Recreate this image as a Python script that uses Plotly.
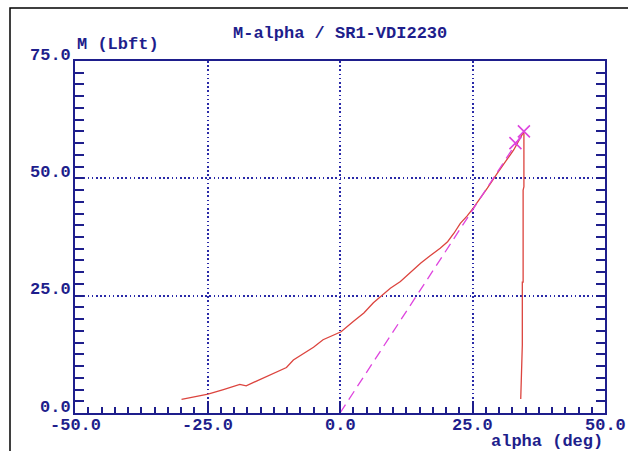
import plotly.graph_objects as go

# ---- data ----
alpha_meas = [-29.9, -27.5, -24.9, -22.0, -18.9, -17.7, -16.0, -13.9, -12.0, -10.1, -8.8, -6.9,
              -5.0, -3.2, -1.5, 0.2, 2.5, 4.5, 6.3, 7.6, 9.5, 11.4, 13.3, 15.2, 17.0, 18.9,
              20.3, 21.5, 22.7, 24.0, 25.1, 26.5, 27.8, 29.7, 31.2, 32.8, 34.7,
              34.7, 34.55, 34.55, 34.4, 34.4, 34.1]
m_meas = [2.9, 3.4, 4.0, 5.0, 6.1, 5.8, 6.7, 7.7, 8.7, 9.7, 11.3, 12.6,
          14.0, 15.6, 16.4, 17.3, 19.5, 21.3, 23.5, 24.8, 26.6, 28.0, 30.0, 31.9, 33.5, 35.1,
          36.5, 38.3, 40.4, 42.0, 43.6, 45.8, 47.9, 51.1, 53.6, 56.1, 60.0,
          48.2, 47.5, 27.9, 27.9, 14.5, 3.0]

alpha_lin = [0.0, 33.1, 34.7]
m_lin = [0.0, 57.5, 60.0]
alpha_mark = [33.1, 34.7]
m_mark = [57.5, 60.0]

x_ticks = [-50, -25, 0, 25, 50]
x_tick_labels = ["-50.0", "-25.0", "0.0", "25.0", "50.0"]
y_ticks = [0, 25, 50, 75]
y_tick_labels = ["0.0", "25.0", "50.0", "75.0"]

title_text = "M-alpha / SR1-VDI2230"
x_title = "alpha (deg)"
y_title = "M (Lbft)"

# ---- style ----
NAVY = "#1e1e8c"
GRID = "#2a2aa8"
RED = "#dc443e"
MAG = "#de44de"
FONT = "Liberation Mono"
fnt = dict(family=FONT, size=17, color=NAVY, weight="bold")

fig = go.Figure()
fig.add_trace(go.Scatter(x=alpha_meas, y=m_meas, mode="lines",
                         line=dict(color=RED, width=1.3), showlegend=False))
fig.add_trace(go.Scatter(x=alpha_lin, y=m_lin, mode="lines",
                         line=dict(color=MAG, width=1.3, dash="10px,6px"), showlegend=False))
fig.add_trace(go.Scatter(x=alpha_mark, y=m_mark, mode="markers",
                         marker=dict(symbol="x-thin", size=12, line=dict(color=MAG, width=1.6)),
                         showlegend=False))

ann = []
for v, t in zip(x_ticks, x_tick_labels):
    ann.append(dict(x=v, y=0, xref="x", yref="paper", text=t, showarrow=False,
                    xanchor="center", yanchor="middle", yshift=-12, font=fnt))
for v, t in zip(y_ticks, y_tick_labels):
    ann.append(dict(x=0, y=v, xref="paper", yref="y", text=t, showarrow=False,
                    xanchor="right", yanchor="middle", xshift=-2, yshift=6, font=fnt))
ann.append(dict(x=0, y=1, xref="paper", yref="paper", text=y_title, showarrow=False,
                xanchor="left", yanchor="middle", yshift=17, font=fnt))
ann.append(dict(x=1, y=0, xref="paper", yref="paper", text=x_title, showarrow=False,
                xanchor="right", yanchor="middle", yshift=-28, font=fnt))
ann.append(dict(x=0.5, y=1, xref="paper", yref="paper", text=title_text, showarrow=False,
                xanchor="center", yanchor="middle", yshift=28, font=fnt))

axis_common = dict(showline=True, linecolor=NAVY, linewidth=2, ticks="inside",
                   tickcolor=NAVY, tickwidth=1.5, showticklabels=False,
                   showgrid=True, gridcolor=GRID, gridwidth=1.6, griddash="1.6px,2.6px",
                   zeroline=False)

fig.update_xaxes(range=[-50, 50], tick0=-50, dtick=25, ticklen=12, mirror=True,
                 minor=dict(dtick=2.5, ticklen=6, ticks="inside", tickcolor=NAVY,
                            tickwidth=1.5, showgrid=False),
                 **axis_common)
fig.update_yaxes(range=[0, 75], tick0=0, dtick=25, ticklen=9, mirror="ticks",
                 minor=dict(dtick=2.5, ticklen=9, ticks="inside", tickcolor=NAVY,
                            tickwidth=1.5, showgrid=False),
                 **axis_common)

L, R, T, B = 75, 23, 61, 38
W, H = 628, 451
pw, ph = W - L - R, H - T - B
fig.add_shape(type="rect", xref="paper", yref="paper",
              x0=(10 - L) / pw, x1=(W + 20 - L) / pw,
              y0=-(H + 20 - T - ph) / ph, y1=1 + (T - 8) / ph,
              line=dict(color="black", width=1.5), layer="below")

fig.update_layout(width=W, height=H, margin=dict(l=L, r=R, t=T, b=B),
                  paper_bgcolor="white", plot_bgcolor="white",
                  annotations=ann, showlegend=False)

fig.write_html("out.html", config={"displayModeBar": False},
               post_script="document.body.style.margin='0';document.body.style.overflow='hidden';")
